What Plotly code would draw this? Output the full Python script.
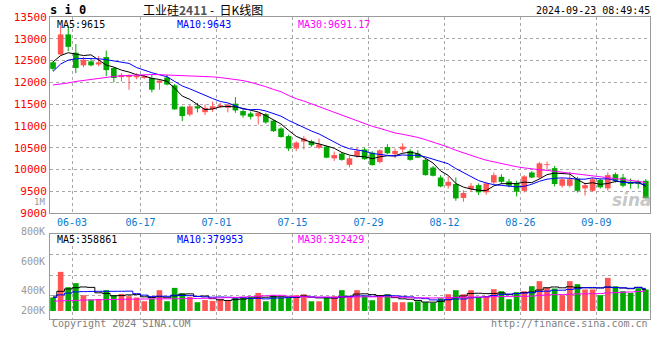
import plotly.graph_objects as go

dates = ["05-30", "05-31", "06-03", "06-04", "06-05", "06-06", "06-07", "06-11", "06-12", "06-13",
         "06-14", "06-17", "06-18", "06-19", "06-20", "06-21", "06-24", "06-25", "06-26", "06-27",
         "06-28", "07-01", "07-02", "07-03", "07-04", "07-05", "07-08", "07-09", "07-10", "07-11",
         "07-12", "07-15", "07-16", "07-17", "07-18", "07-19", "07-22", "07-23", "07-24", "07-25",
         "07-26", "07-29", "07-30", "07-31", "08-01", "08-02", "08-05", "08-06", "08-07", "08-08",
         "08-09", "08-12", "08-13", "08-14", "08-15", "08-16", "08-19", "08-20", "08-21", "08-22",
         "08-23", "08-26", "08-27", "08-28", "08-29", "08-30", "09-02", "09-03", "09-04", "09-05",
         "09-06", "09-09", "09-10", "09-11", "09-12", "09-13", "09-18", "09-19", "09-20"]

opens = [12460, 12640, 13100, 12680, 12390, 12480, 12410, 12580, 12330, 12120,
         12120, 12115, 12100, 12100, 11990, 12110, 11930, 11440, 11260, 11450,
         11315, 11380, 11440, 11415, 11510, 11340, 11285, 11220, 11270, 11120,
         10940, 10765, 10480, 10640, 10650, 10500, 10525, 10255, 10365, 10105,
         10310, 10460, 10385, 10170, 10515, 10350, 10460, 10425, 10365, 10220,
         10045, 9815, 9625, 9665, 9345, 9550, 9640, 9475, 9700, 9830,
         9725, 9685, 9510, 9930, 9815, 10100, 10030, 9625, 9625, 9790,
         9565, 9510, 9760, 9565, 9890, 9815, 9715, 9720, 9740]
highs = [12480, 13310, 13290, 12880, 12580, 12540, 12600, 12730, 12340, 12210,
         12180, 12210, 12170, 12180, 12075, 12175, 11960, 11450, 11480, 11530,
         11490, 11560, 11530, 11510, 11660, 11380, 11330, 11310, 11300, 11140,
         10970, 10800, 10650, 10770, 10680, 10710, 10540, 10410, 10400, 10310,
         10500, 10500, 10420, 10460, 10580, 10480, 10600, 10460, 10440, 10240,
         10080, 9870, 9840, 9815, 9520, 9690, 9680, 9700, 9930, 9890,
         9780, 9740, 9870, 9960, 10170, 10180, 10080, 9810, 9950, 9830,
         9700, 9810, 9790, 9930, 9930, 9900, 9790, 9760, 9780]
lows = [12260, 12620, 12715, 12210, 12345, 12370, 12370, 12140, 12000, 12020,
        11830, 12070, 12080, 11770, 11830, 11930, 11370, 11110, 11220, 11310,
        11250, 11320, 11410, 11310, 11300, 11190, 11150, 11030, 11050, 10860,
        10730, 10420, 10420, 10460, 10520, 10470, 10260, 10195, 10200, 10045,
        10270, 10220, 10090, 10140, 10350, 10260, 10390, 10200, 10260, 9860,
        9840, 9590, 9560, 9280, 9260, 9480, 9410, 9420, 9660, 9660,
        9590, 9380, 9470, 9800, 9780, 9990, 9610, 9580, 9590, 9470,
        9400, 9480, 9560, 9510, 9700, 9590, 9560, 9560, 9330]
closes = [12310, 13100, 12815, 12330, 12520, 12390, 12460, 12280, 12100, 12170,
          12170, 12150, 12140, 11830, 12040, 11950, 11380, 11225, 11450, 11400,
          11415, 11450, 11475, 11490, 11355, 11240, 11210, 11300, 11080, 10880,
          10745, 10480, 10615, 10710, 10555, 10575, 10270, 10330, 10220, 10255,
          10425, 10235, 10100, 10440, 10370, 10425, 10525, 10220, 10270, 9870,
          9855, 9610, 9715, 9335, 9460, 9625, 9475, 9680, 9870, 9715,
          9625, 9490, 9840, 9815, 10140, 10120, 9665, 9775, 9775, 9510,
          9640, 9775, 9590, 9870, 9740, 9625, 9665, 9670, 9340]

ma5 = [12470, 12615, 12680, 12650, 12615, 12631, 12503, 12396, 12350, 12280,
       12236, 12174, 12146, 12092, 12066, 12022, 11868, 11685, 11609, 11481,
       11374, 11388, 11438, 11446, 11437, 11402, 11354, 11319, 11237, 11142,
       11043, 10897, 10760, 10686, 10621, 10587, 10545, 10488, 10390, 10330,
       10300, 10293, 10247, 10291, 10314, 10314, 10372, 10396, 10362, 10262,
       10148, 9965, 9864, 9677, 9595, 9549, 9522, 9515, 9622, 9673,
       9673, 9676, 9708, 9697, 9782, 9881, 9916, 9903, 9895, 9769,
       9673, 9695, 9658, 9677, 9723, 9720, 9698, 9714, 9608]
ma10 = [12250, 12420, 12510, 12540, 12550, 12550, 12540, 12520, 12490, 12448,
        12434, 12339, 12271, 12221, 12173, 12129, 12021, 11916, 11851, 11774,
        11698, 11628, 11562, 11528, 11459, 11388, 11371, 11379, 11342, 11290,
        11223, 11126, 11040, 10962, 10882, 10815, 10721, 10624, 10538, 10476,
        10444, 10419, 10368, 10341, 10322, 10307, 10333, 10322, 10327, 10288,
        10231, 10169, 10130, 10020, 9929, 9849, 9744, 9690, 9650, 9634,
        9611, 9599, 9612, 9660, 9728, 9777, 9796, 9806, 9796, 9776,
        9777, 9806, 9781, 9786, 9746, 9697, 9697, 9686, 9643]
ma30 = [11940, 11960, 11985, 12020, 12045, 12070, 12095, 12120, 12135, 12150,
        12160, 12170, 12175, 12180, 12175, 12170, 12165, 12160, 12155, 12150,
        12140, 12125, 12110, 12090, 12065, 12040, 12000, 11955, 11900, 11837,
        11785, 11697, 11624, 11570, 11505, 11444, 11371, 11306, 11243, 11180,
        11121, 11058, 10990, 10943, 10888, 10837, 10808, 10775, 10735, 10684,
        10632, 10571, 10512, 10441, 10377, 10324, 10266, 10212, 10171, 10133,
        10095, 10062, 10036, 10007, 9993, 9978, 9957, 9939, 9924, 9899,
        9873, 9858, 9841, 9822, 9801, 9774, 9745, 9727, 9696]

volume_k = [226, 657, 399, 467, 265, 192, 202, 349, 265, 286,
            248, 226, 163, 209, 349, 163, 388, 298, 236, 147,
            185, 169, 197, 180, 226, 226, 236, 303, 163, 265,
            226, 226, 265, 281, 163, 163, 226, 248, 349, 248,
            349, 248, 180, 265, 281, 147, 147, 147, 163, 147,
            135, 214, 281, 349, 281, 349, 226, 248, 366, 332,
            197, 315, 332, 416, 500, 388, 377, 265, 500, 450,
            361, 361, 265, 556, 416, 332, 303, 382, 361]
vma5 = [250, 330, 370, 390, 403, 396, 305, 295, 255, 259,
        270, 275, 238, 226, 239, 222, 254, 281, 287, 246,
        251, 207, 187, 176, 191, 200, 213, 234, 231, 239,
        239, 237, 229, 253, 232, 220, 220, 216, 230, 247,
        284, 288, 275, 258, 265, 224, 204, 197, 177, 150,
        148, 161, 188, 225, 252, 295, 297, 291, 294, 304,
        274, 292, 308, 318, 352, 390, 403, 389, 406, 396,
        391, 387, 387, 399, 392, 386, 374, 398, 359]
vma10 = [226, 270, 300, 320, 325, 328, 330, 330, 330, 331,
         333, 290, 266, 241, 249, 246, 265, 260, 257, 243,
         236, 231, 234, 231, 219, 225, 210, 211, 203, 215,
         219, 225, 232, 242, 235, 229, 228, 223, 241, 240,
         252, 254, 246, 244, 256, 254, 246, 236, 218, 207,
         186, 183, 193, 201, 201, 221, 229, 239, 260, 278,
         284, 294, 300, 306, 328, 332, 347, 349, 362, 374,
         390, 395, 388, 402, 394, 388, 381, 393, 379]
vma30 = [165, 170, 174, 178, 182, 185, 188, 191, 193, 195,
         197, 199, 201, 202, 203, 204, 205, 206, 208, 210,
         213, 216, 220, 224, 229, 234, 240, 247, 255, 263,
         263, 248, 244, 238, 234, 233, 234, 231, 234, 232,
         236, 237, 237, 239, 237, 236, 228, 223, 221, 221,
         219, 220, 223, 229, 231, 235, 235, 233, 239, 242,
         241, 244, 246, 250, 262, 269, 274, 275, 280, 287,
         287, 291, 294, 303, 308, 314, 319, 327, 334]

tick_dates = ["06-03", "06-17", "07-01", "07-15", "07-29", "08-12", "08-26", "09-09"]
price_ticks = [9000, 9500, 10000, 10500, 11000, 11500, 12000, 12500, 13000, 13500]
vol_axis_labels = ["800K", "600K", "400K", "200K"]

RED = "#ff5555"
GREEN = "#00a800"
MONO = "DejaVu Sans Mono"
GRID = "#a8a8a8"
BORDER = "#9a9a9a"

W, H = 660, 360
ML, MR, MT, MB = 50, 10, 17, 41
PW, PH = W - ML - MR, H - MT - MB


def px(x):
    return (x - ML) / PW


def py(y):
    return (H - MB - y) / PH


idx = list(range(len(dates)))
colors = [RED if c >= o else GREEN for o, c in zip(opens, closes)]

fig = go.Figure()

# wicks
for col in (RED, GREEN):
    xs, ys = [], []
    for i, (lo, hi, cc) in enumerate(zip(lows, highs, colors)):
        if cc == col:
            xs += [i, i, None]
            ys += [lo, hi, None]
    fig.add_trace(go.Scatter(x=xs, y=ys, mode="lines", line=dict(color=col, width=1),
                             xaxis="x", yaxis="y", hoverinfo="skip"))

# bodies
fig.add_trace(go.Bar(x=idx, base=opens, y=[c - o for o, c in zip(opens, closes)],
                     marker=dict(color=colors, line=dict(width=0)), width=0.74,
                     xaxis="x", yaxis="y", hoverinfo="skip"))

for arr, col in ((ma5, "#000000"), (ma10, "#0000ff"), (ma30, "#ff00ff")):
    fig.add_trace(go.Scatter(x=idx, y=arr, mode="lines", line=dict(color=col, width=1),
                             xaxis="x", yaxis="y", hoverinfo="skip"))

# volume
fig.add_trace(go.Bar(x=idx, y=volume_k, marker=dict(color=colors, line=dict(width=0)),
                     width=0.74, xaxis="x2", yaxis="y2", hoverinfo="skip"))
for arr, col in ((vma5, "#000000"), (vma10, "#0000ff"), (vma30, "#ff00ff")):
    fig.add_trace(go.Scatter(x=idx, y=arr, mode="lines", line=dict(color=col, width=1, shape="hvh"),
                             xaxis="x2", yaxis="y2", hoverinfo="skip"))

xr = [-0.4, 78.55]
tickpos = [dates.index(d) + 0.5 for d in tick_dates]
price_dom = [py(213), 1.0]
vol_dom = [0.0, py(234.3)]
k_per_px = 16.85
vol_range = [-(318.7 - 310.7) * k_per_px, (310.7 - 234.3) * k_per_px]
vol_grid = [(310.7 - y) * k_per_px for y in (295, 275, 254.7)]

common_x = dict(range=xr, tickvals=tickpos, showgrid=True, griddash="dot", gridcolor=GRID,
                gridwidth=1, zeroline=False, showline=True, linecolor=BORDER, linewidth=1,
                mirror=True, ticks="", fixedrange=True, automargin=False)

fig.update_layout(
    width=W, height=H,
    margin=dict(l=ML, r=MR, t=MT, b=MB, autoexpand=False),
    paper_bgcolor="white", plot_bgcolor="white",
    showlegend=False, hovermode=False, barmode="overlay",
    xaxis=dict(**common_x, anchor="y", ticktext=tick_dates,
               tickfont=dict(family=MONO, size=10, color="#0a78cc")),
    xaxis2=dict(**common_x, anchor="y2", showticklabels=False),
    yaxis=dict(domain=price_dom, range=[9000, 13500], tickvals=price_ticks,
               ticktext=[str(v) for v in price_ticks], showgrid=True, griddash="dot",
               gridcolor=GRID, zeroline=False, showline=True, linecolor=BORDER, linewidth=1,
               mirror=True, ticks="", tickfont=dict(family=MONO, size=11, color="#ff0000"),
               fixedrange=True, automargin=False),
    yaxis2=dict(domain=vol_dom, range=vol_range, tickvals=vol_grid, showticklabels=False,
                showgrid=True, griddash="dot", gridcolor=GRID, zeroline=False, showline=True,
                linecolor=BORDER, linewidth=1, mirror=True, ticks="", fixedrange=True,
                automargin=False),
)

ann = []


def text(x, y, s, size=10, color="#000000", anchor="left", family=MONO):
    ann.append(dict(x=px(x), y=py(y), xref="paper", yref="paper", text=s, showarrow=False,
                    xanchor=anchor, yanchor="middle",
                    font=dict(family=family, size=size, color=color)))


text(48, 10, "<b>s i 0</b>", size=12)
text(141, 9.5, "工业硅<span style='color:#555555'><b>2411</b></span> -  日K线图", size=12,
     family="Noto Sans CJK SC, DejaVu Sans Mono")
text(652, 11, "2024-09-23 08:49:45", size=10, anchor="right")

text(55, 24.5, "MA5:9615")
text(175, 24.5, "MA10:9643", color="#0000ff")
text(296, 24.5, "MA30:9691.17", color="#ff00ff")

text(55, 239, "MA5:358861")
text(175, 239, "MA10:379953", color="#0000ff")
text(296, 239, "MA30:332429", color="#ff00ff")

for lab, y in zip(vol_axis_labels, (231, 261, 290.7, 310)):
    text(47, y, lab, color="#999999", anchor="right")
text(47, 202, "1M", size=9, color="#999999", anchor="right")

text(50, 323, "Copyright 2024 SINA.COM", color="#808080")
text(650, 323, "http://finance.sina.com.cn", color="#808080", anchor="right")

text(632, 200, "<b><i>sina</i></b>", size=17, color="rgba(150,150,150,0.55)", anchor="center",
     family="DejaVu Sans")

fig.update_layout(annotations=ann)
fig.write_html("out.html", config={"displayModeBar": False, "staticPlot": True},
               post_script="document.body.style.margin='0';document.body.style.padding='0';")
